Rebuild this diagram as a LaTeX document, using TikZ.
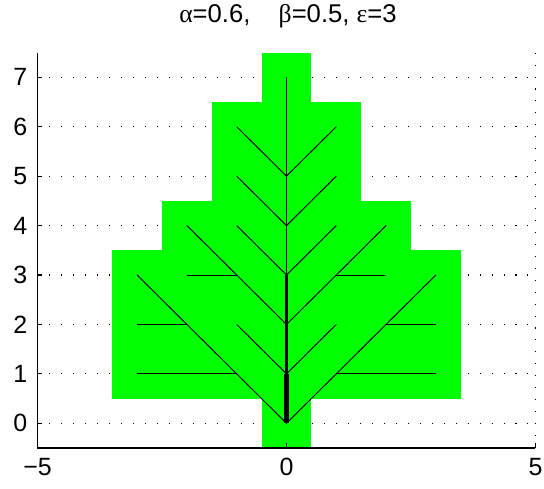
\documentclass[tikz,border=0pt]{standalone}
\usepackage{fontspec}
\setmainfont{Liberation Sans}
\newfontfamily\greekf{Liberation Serif}
\definecolor{leafgreen}{RGB}{0,255,0}
\begin{document}
\begin{tikzpicture}[x=0.996cm,y=0.9886cm,
  gridline/.style={black,line width=0.6pt,dash pattern=on 0.6pt off 6.2pt},
  leaf/.style={fill=leafgreen,draw=none},
  vein/.style={black,line width=0.55pt},
  axisline/.style={black,line width=0.6pt},
  ticklab/.style={font=\fontsize{14.2}{16}\selectfont,inner sep=0pt}]
\useasboundingbox (-5.753,-1.329) rectangle (5.171,8.564);
% grid
\foreach \y in {0,...,7} \draw[gridline] (-5,\y) -- (5,\y);
\foreach \x in {-5,0,5} \draw[gridline] (\x,-0.5) -- (\x,7.5);
% leaf cells
\fill[leaf] (-0.5,-0.5) rectangle (0.5,7.5);
\fill[leaf] (-1.5,0.5) rectangle (1.5,6.5);
\fill[leaf] (-2.5,0.5) rectangle (2.5,4.5);
\fill[leaf] (-3.5,0.5) rectangle (3.5,3.5);
% trunk
\foreach \i in {0,...,7} \coordinate (t\i) at (0,\i);
\draw[line width=2.4pt] (t0) -- (t1);
\draw[line width=2.0pt] (t1) -- (t2);
\draw[line width=1.3pt] (t2) -- (t3);
\draw[line width=1.0pt] (t3) -- (t4);
\draw[line width=0.65pt] (t4) -- (t7);
% branches (mirrored)
\foreach \s in {-1,1}{
  \coordinate (a1) at (\s*1,1);
  \coordinate (a2) at (\s*2,2);
  \coordinate (a3) at (\s*3,3);
  \coordinate (h1) at (\s*3,1);
  \coordinate (h2) at (\s*3,2);
  \coordinate (b1) at (\s*1,2);
  \coordinate (c1) at (\s*1,3);
  \coordinate (c2) at (\s*2,4);
  \coordinate (hc) at (\s*2,3);
  \coordinate (d1) at (\s*1,4);
  \coordinate (e1) at (\s*1,5);
  \coordinate (f1) at (\s*1,6);
  \draw[vein] (t0) -- (a3);
  \draw[vein] (a1) -- (h1);
  \draw[vein] (a2) -- (h2);
  \draw[vein] (t1) -- (b1);
  \draw[vein] (t2) -- (c2);
  \draw[vein] (c1) -- (hc);
  \draw[vein] (t3) -- (d1);
  \draw[vein] (t4) -- (e1);
  \draw[vein] (t5) -- (f1);
}
% axes
\coordinate (o) at (-5,-0.5);
\coordinate (xe) at (5,-0.5);
\coordinate (ye) at (-5,7.5);
\draw[axisline] (ye) -- (o) -- (xe);
\foreach \y in {0,...,7}{
  \draw[axisline] (-5,\y) -- ++(0.1,0);
  \node[ticklab,anchor=east] (yl\y) at (-5.2,\y) {\y};
}
\foreach \x/\l in {-5/−5,0/0,5/5}{
  \draw[axisline] (\x,-0.5) -- ++(0,0.1);
  \node[ticklab] (xl\x) at (\x,-0.88) {\l};
}
\node[font=\fontsize{14.6}{17}\selectfont] (title) at (0.03,8.24)
  {{\greekf α}=0.6,\hspace{1.1em}{\greekf β}=0.5, {\greekf ε}=3};
\end{tikzpicture}
\end{document}
